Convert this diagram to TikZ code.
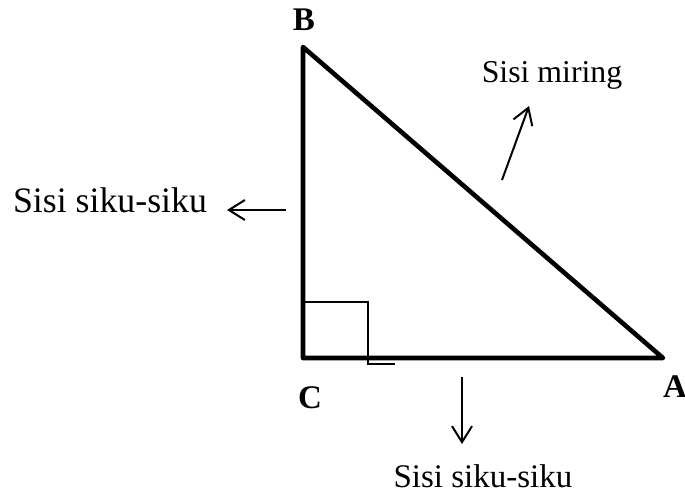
\documentclass[tikz,border=0pt]{standalone}
\usepackage{fontspec}
\setmainfont{Liberation Serif}
\usetikzlibrary{arrows.meta}

\begin{document}
\begin{tikzpicture}[x=0.5pt,y=-0.5pt,
  sisi/.style={line width=2.3pt,line join=round},
  panah/.style={line width=1pt,-{Straight Barb[length=8pt,width=10pt]}},
  teks/.style={anchor=base,inner sep=0pt,font=\fontsize{16.5}{20}\selectfont},
  titik/.style={anchor=base,inner sep=0pt,font=\fontsize{16.5}{20}\selectfont\bfseries}]
  \useasboundingbox (0,0) rectangle (685,495);
  % the triangle
  \coordinate (C) at (303,358);
  \coordinate (B) at (303,47);
  \coordinate (A) at (663,358);
  \draw[sisi] (C) -- (B) -- (A) -- cycle;
  % right angle at C
  \draw[line width=0.7pt] (303,302) -- (368,302) -- (368,364) -- (395,364);
  % vertex names
  \node[titik] (labB) at (304,30) {B};
  \node[titik] (labC) at (310,408) {C};
  \node[titik] (labA) at (675,397) {A};
  % side names
  \node[teks,font=\fontsize{15.9}{19}\selectfont] (miring) at (552,82) {Sisi miring};
  \node[teks,font=\fontsize{17.9}{21}\selectfont] (kiri) at (110,212) {Sisi siku-siku};
  \node[teks] (bawah) at (483,487) {Sisi siku-siku};
  % arrows towards the names
  \coordinate (m0) at (502,180);
  \coordinate (m1) at (529,106);
  \coordinate (k0) at (286,210);
  \coordinate (k1) at (227,210);
  \coordinate (b0) at (462,377);
  \coordinate (b1) at (462,444);
  \draw[panah] (m0) -- (m1);
  \draw[panah] (k0) -- (k1);
  \draw[panah] (b0) -- (b1);
\end{tikzpicture}
\end{document}
